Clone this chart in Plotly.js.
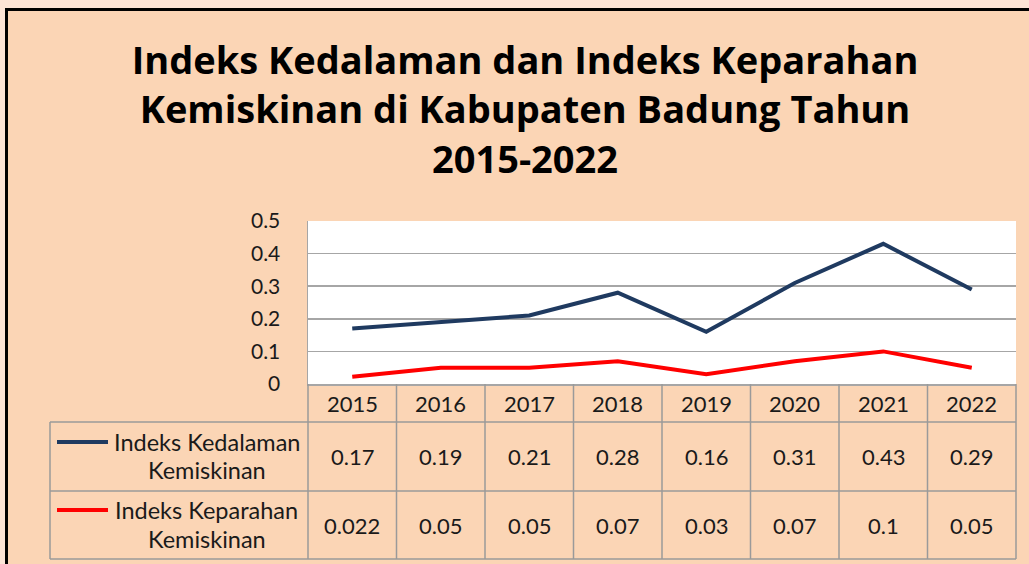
<!DOCTYPE html>
<html>
<head>
<meta charset="utf-8">
<script src="https://cdn.plot.ly/plotly-3.0.1.min.js"></script>
<style>
html,body{margin:0;padding:0;background:#FCE4D6;}
#chart{width:1029px;height:564px;}
</style>
</head>
<body>
<div id="chart"></div>
<script>
// ---- data ----
var years = ['2015','2016','2017','2018','2019','2020','2021','2022'];
var kedalaman = [0.17, 0.19, 0.21, 0.28, 0.16, 0.31, 0.43, 0.29];
var keparahan = [0.022, 0.05, 0.05, 0.07, 0.03, 0.07, 0.1, 0.05];
var kedalamanLabel = ['Indeks Kedalaman', 'Kemiskinan'];
var keparahanLabel = ['Indeks Keparahan', 'Kemiskinan'];
var titleLines = ['Indeks Kedalaman dan Indeks Keparahan', 'Kemiskinan di Kabupaten Badung Tahun', '2015-2022'];

// ---- geometry (pixels) ----
var W = 1029, H = 564;
var PL = 308, PR = 1016, PT = 221, PB = 384;
function px(x){ return (x - PL) / (PR - PL); }
function py(y){ return (PB - y) / (PB - PT); }

var navy = '#1F3A60', red = '#FF0000';
var gridCol = '#A6A6A6', tblCol = '#9A9A9A';
var bg = '#FBD5B5', outer = '#FCE4D6';
var font = 'Lato, "Open Sans", sans-serif';
var txtCol = '#1a1a1a';

var traces = [
  {x: years, y: kedalaman, type: 'scatter', mode: 'lines', name: kedalamanLabel.join(' '),
   line: {color: navy, width: 4}},
  {x: years, y: keparahan, type: 'scatter', mode: 'lines', name: keparahanLabel.join(' '),
   line: {color: red, width: 4}}
];

var shapes = [];
var annotations = [];
function hline(y, x0, x1, col, w){
  shapes.push({type:'line', xref:'paper', yref:'paper', x0:px(x0), x1:px(x1), y0:py(y), y1:py(y),
    line:{color:col, width:w}, layer:'above'});
}
function vline(x, y0, y1, col, w){
  shapes.push({type:'line', xref:'paper', yref:'paper', x0:px(x), x1:px(x), y0:py(y0), y1:py(y1),
    line:{color:col, width:w}, layer:'above'});
}

// outer light strips and black frame
shapes.push({type:'rect', xref:'paper', yref:'paper', x0:px(-5), x1:px(W+5), y0:py(-5), y1:py(8),
  fillcolor: outer, line:{width:0}, layer:'above'});
shapes.push({type:'rect', xref:'paper', yref:'paper', x0:px(-5), x1:px(5), y0:py(-5), y1:py(H+5),
  fillcolor: outer, line:{width:0}, layer:'above'});
hline(9.5, 5, W+5, '#000', 3);
vline(6.5, 8, H+5, '#000', 3);

// table grid
var colW = (PR - PL) / years.length;
var rowH = [384, 422, 491, 559];
var legL = 50;
hline(rowH[1], legL, PR, tblCol, 1.5);
hline(rowH[2], legL, PR, tblCol, 1.5);
hline(rowH[3], legL, PR, tblCol, 1.5);
vline(legL, rowH[1], rowH[3], tblCol, 1.5);
vline(PL, PB, rowH[3], tblCol, 1.5);
for (var k = 1; k <= years.length; k++) {
  vline(PL + colW * k, PB, rowH[3], tblCol, 1.5);
}

// header years and values (column centres from the category axis layout)
var fs = 22;
years.forEach(function(yr, i){
  var cx = px(PL + colW * (i + 0.5));
  annotations.push({xref:'paper', yref:'paper', x:cx, y:py((rowH[0]+rowH[1])/2), text:yr, showarrow:false,
    font:{family:font, size:fs, color:txtCol}, xanchor:'center', yanchor:'middle'});
  annotations.push({xref:'paper', yref:'paper', x:cx, y:py((rowH[1]+rowH[2])/2), text:String(kedalaman[i]), showarrow:false,
    font:{family:font, size:fs, color:txtCol}, xanchor:'center', yanchor:'middle'});
  annotations.push({xref:'paper', yref:'paper', x:cx, y:py((rowH[2]+rowH[3])/2), text:String(keparahan[i]), showarrow:false,
    font:{family:font, size:fs, color:txtCol}, xanchor:'center', yanchor:'middle'});
});

// legend keys in table
function legendRow(lines, col, y1, y2){
  shapes.push({type:'line', xref:'paper', yref:'paper', x0:px(57), x1:px(108), y0:py(y1), y1:py(y1),
    line:{color:col, width:4}, layer:'above'});
  annotations.push({xref:'paper', yref:'paper', x:px(206.5), y:py(y1), text:lines[0], showarrow:false,
    font:{family:font, size:23.5, color:txtCol}, xanchor:'center', yanchor:'middle'});
  annotations.push({xref:'paper', yref:'paper', x:px(206.5), y:py(y2), text:lines[1], showarrow:false,
    font:{family:font, size:23.5, color:txtCol}, xanchor:'center', yanchor:'middle'});
}
legendRow(kedalamanLabel, navy, 442, 470);
legendRow(keparahanLabel, red, 510, 539);

var layout = {
  width: W, height: H,
  margin: {l: PL, r: W - PR, t: PT, b: H - PB, pad: 0},
  paper_bgcolor: bg,
  plot_bgcolor: '#FFFFFF',
  showlegend: false,
  title: {
    text: '<b>' + titleLines.join('<br>') + '</b>',
    x: 525 / W, xanchor: 'center', xref: 'container',
    y: 1 - 74 / H, yanchor: 'top', yref: 'container',
    font: {family: '"Open Sans", Lato, sans-serif', size: 38, color: '#000'}
  },
  xaxis: {
    type: 'category', range: [-0.5, years.length - 0.5],
    showticklabels: false, showgrid: false, zeroline: false,
    showline: true, linecolor: gridCol, linewidth: 1.5, ticks: '', fixedrange: true
  },
  yaxis: {
    range: [0, 0.5], dtick: 0.1, tick0: 0,
    showgrid: true, gridcolor: gridCol, gridwidth: 1.5, zeroline: false,
    showline: true, linecolor: gridCol, linewidth: 1.5,
    ticks: '', ticklabelstandoff: 22,
    tickfont: {family: font, size: 21, color: txtCol}, fixedrange: true
  },
  shapes: shapes,
  annotations: annotations
};

Plotly.newPlot('chart', traces, layout, {displayModeBar: false, staticPlot: true});
</script>
</body>
</html>
